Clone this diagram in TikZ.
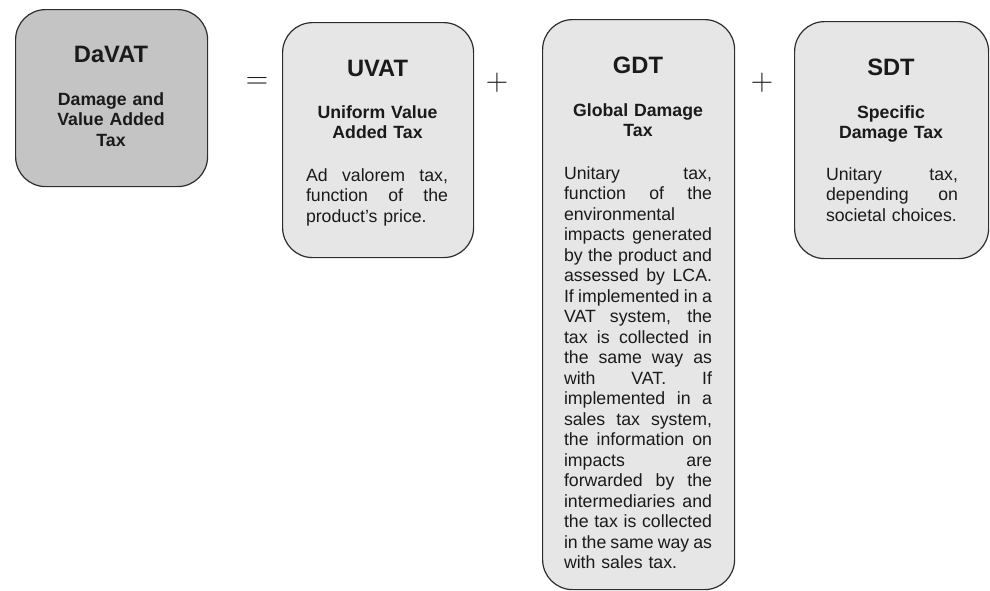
\documentclass[tikz,border=0pt]{standalone}
\usepackage{fontspec}
\setmainfont{Liberation Sans}
\definecolor{boxdark}{HTML}{C4C4C4}
\definecolor{boxlight}{HTML}{E6E6E6}
\definecolor{edge}{HTML}{2E2E2E}
\definecolor{ink}{HTML}{1A1A1A}
\newcommand{\jl}[1]{{\spaceskip=0.278em plus 20em minus 0.05em\xspaceskip=\spaceskip\makebox[\linewidth][s]{#1}}\par}
\tikzset{
  taxbox/.style={draw=edge, line width=1.2pt, rounded corners=30pt, inner sep=0pt, anchor=north west},
  titletext/.style={anchor=base, inner sep=0pt, text=ink, font=\fontsize{23.7}{26}\selectfont\bfseries},
  subtext/.style={anchor=base, inner sep=0pt, text=ink, align=center, font=\fontsize{17.7}{20.5}\selectfont\bfseries},
  bodytext/.style={anchor=base, inner sep=0pt, text=ink, font=\fontsize{17.7}{20.5}\selectfont},
  optext/.style={anchor=center, inner sep=0pt, text=ink, font=\fontfamily{lmr}\fontsize{31}{33}\selectfont}
}
\begin{document}
\begin{tikzpicture}[x=1pt, y=-1pt]
\useasboundingbox (0,0) rectangle (990,590);
% boxes
\node[taxbox, fill=boxdark, minimum width=192pt, minimum height=177pt] (davat) at (15,9) {};
\node[taxbox, fill=boxlight, minimum width=191pt, minimum height=235pt] (uvat) at (282,22) {};
\node[taxbox, fill=boxlight, minimum width=192pt, minimum height=570pt] (gdt) at (542,19) {};
\node[taxbox, fill=boxlight, minimum width=194pt, minimum height=237pt] (sdt) at (794,21) {};
% operators
\node[optext] (eq) at (257,83) {=};
\node[optext] (plus1) at (497,83) {+};
\node[optext] (plus2) at (762,83) {+};
% DaVAT
\node[titletext] (davatT) at (111,62) {DaVAT};
\node[subtext, text width=140pt] (davatS) at (111,105) {Damage and\\Value Added\\Tax};
% UVAT
\node[titletext] (uvatT) at (377.5,76) {UVAT};
\node[subtext, text width=160pt] (uvatS) at (377.5,118) {Uniform Value\\Added Tax};
\node[bodytext, text width=142pt] (uvatB) at (377,181) {%
\jl{Ad valorem tax,}
\jl{function of the}
product's price.};
% GDT
\node[titletext] (gdtT) at (638,73) {GDT};
\node[subtext, text width=160pt] (gdtS) at (638,116) {Global Damage\\Tax};
\node[bodytext, text width=148pt] (gdtB) at (638,179) {%
\jl{Unitary tax,}
\jl{function of the}
environmental\par
\jl{impacts generated}
\jl{by the product and}
\jl{assessed by LCA.}
\jl{If implemented in a}
\jl{VAT system, the}
\jl{tax is collected in}
\jl{the same way as}
\jl{with VAT. If}
\jl{implemented in a}
\jl{sales tax system,}
\jl{the information on}
\jl{impacts are}
\jl{forwarded by the}
\jl{intermediaries and}
\jl{the tax is collected}
\jl{in the same way as}
with sales tax.};
% SDT
\node[titletext] (sdtT) at (891,75) {SDT};
\node[subtext, text width=160pt] (sdtS) at (891,118) {Specific\\Damage Tax};
\node[bodytext, text width=132pt] (sdtB) at (892,180) {%
\jl{Unitary tax,}
\jl{depending on}
societal choices.};
\end{tikzpicture}
\end{document}
